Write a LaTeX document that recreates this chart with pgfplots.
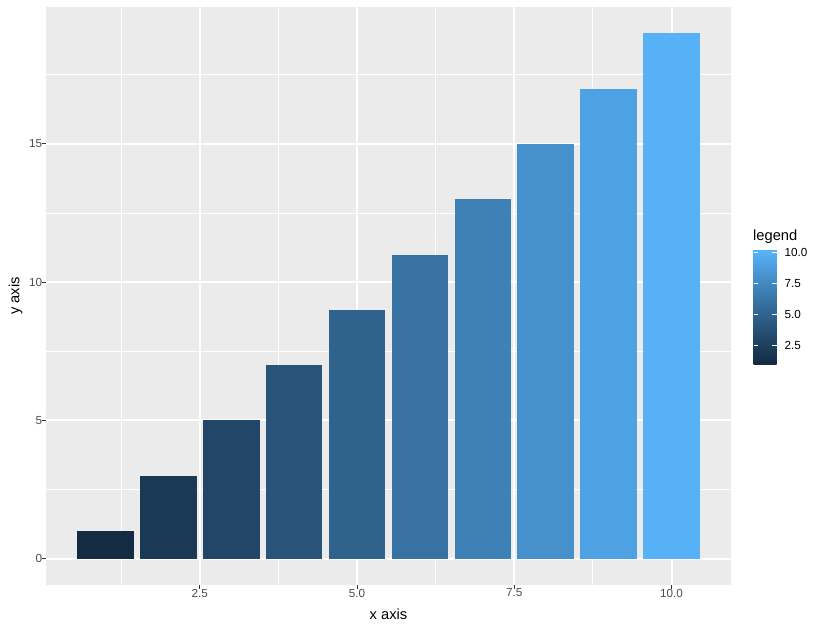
\documentclass[border=0pt]{standalone}
\usepackage{fontspec}
\setmainfont{Liberation Sans}
\usepackage{pgfplots}
\pgfplotsset{compat=1.18}
\definecolor{bg}{HTML}{EBEBEB}
\definecolor{tk}{HTML}{333333}
\definecolor{tl}{HTML}{4D4D4D}
\definecolor{c1}{RGB}{19,43,67}
\definecolor{c2}{RGB}{26,57,85}
\definecolor{c3}{RGB}{33,70,104}
\definecolor{c4}{RGB}{40,84,122}
\definecolor{c5}{RGB}{47,99,142}
\definecolor{c6}{RGB}{55,114,162}
\definecolor{c7}{RGB}{62,129,183}
\definecolor{c8}{RGB}{70,145,204}
\definecolor{c9}{RGB}{78,161,226}
\definecolor{c10}{RGB}{86,177,247}
\newcommand\ticksz{\fontsize{11.7bp}{13bp}\selectfont}
\newcommand\titsz{\fontsize{14.7bp}{17bp}\selectfont}
\begin{document}
\begin{tikzpicture}[x=1bp,y=1bp]
\path[use as bounding box] (0,0) rectangle (822,630);
\begin{axis}[
  at={(46bp,45bp)}, anchor=south west,
  scale only axis, width=685bp, height=578bp,
  xmin=0.055, xmax=10.945, ymin=-0.95, ymax=19.95,
  /pgf/number format/assume math mode=true,
  axis background/.style={fill=bg},
  axis line style={draw=none},
  xtick={2.5,5,7.5,10}, xticklabels={2.5,5.0,7.5,10.0},
  ytick={0,5,10,15}, yticklabels={0,5,10,15},
  minor xtick={1.25,3.75,6.25,8.75}, minor ytick={2.5,7.5,12.5,17.5},
  grid=both,
  major grid style={white, line width=1.9bp},
  minor grid style={white, line width=0.95bp},
  xtick pos=left, ytick pos=left,
  tick align=outside,
  major tick length=3.67bp, minor tick length=0bp,
  tick style={tk, line width=1bp},
  xticklabel style={font=\ticksz, text=tl, anchor=north, inner sep=0pt},
  yticklabel style={font=\ticksz, text=tl, anchor=east, inner sep=0pt},
  xlabel={x axis}, ylabel={y axis},
  xlabel style={font=\titsz, at={(axis description cs:0.5,-0.06055)}, anchor=base},
  ylabel style={font=\titsz, at={(axis description cs:-0.03869,0.5)}, anchor=base},
  point meta min=0.91, point meta max=10.19,
  colormap={gg}{rgb255(0pt)=(19,43,67); rgb255(9pt)=(19,43,67); rgb255(109pt)=(26,57,85);
    rgb255(209pt)=(33,70,104); rgb255(309pt)=(40,84,122); rgb255(409pt)=(47,99,142);
    rgb255(509pt)=(55,114,162); rgb255(609pt)=(62,129,183); rgb255(709pt)=(70,145,204);
    rgb255(809pt)=(78,161,226); rgb255(909pt)=(86,177,247); rgb255(928pt)=(86,177,247)},
  colorbar right,
  colorbar/width=23bp,
  colorbar style={
    at={(parent axis.south west)}, anchor=south west, xshift=699bp, yshift=220bp,
    scale only axis, width=23bp, height=115bp,
    axis line style={draw=none},
    ytick={2.5,5,7.5,10}, yticklabels={2.5,5.0,7.5,10.0},
    yticklabel pos=right, ytick pos=both,
    tick align=inside, major tick length=4.6bp,
    tick style={white, line width=1bp},
    yticklabel style={font=\ticksz, text=black, anchor=west, inner sep=0pt, xshift=8bp},
    axis on top,
  },
  every axis plot/.append style={ybar, bar width=0.9, bar shift=0pt, draw=none},
]
\addplot[fill=c1] coordinates {(1,1)};
\addplot[fill=c2] coordinates {(2,3)};
\addplot[fill=c3] coordinates {(3,5)};
\addplot[fill=c4] coordinates {(4,7)};
\addplot[fill=c5] coordinates {(5,9)};
\addplot[fill=c6] coordinates {(6,11)};
\addplot[fill=c7] coordinates {(7,13)};
\addplot[fill=c8] coordinates {(8,15)};
\addplot[fill=c9] coordinates {(9,17)};
\addplot[fill=c10] coordinates {(10,19)};
\end{axis}
\node[anchor=base west, inner sep=0pt, font=\titsz] at (753,389) {legend};
\end{tikzpicture}
\end{document}
